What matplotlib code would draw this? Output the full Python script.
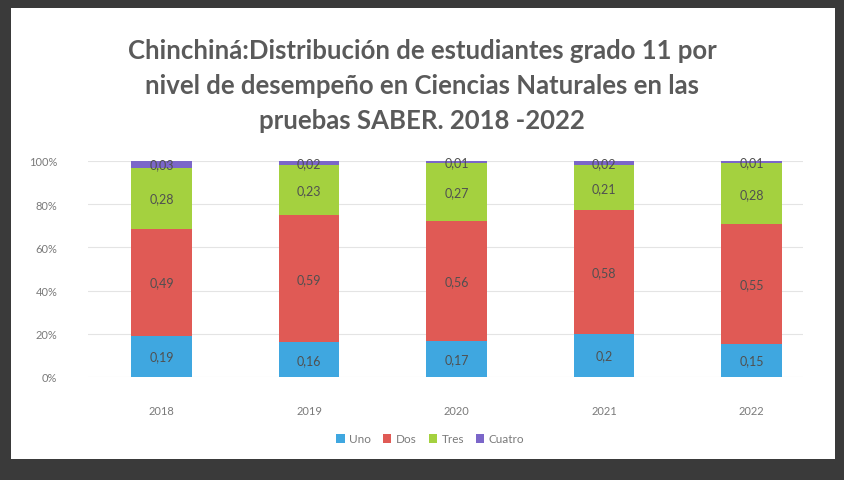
import matplotlib
matplotlib.use("Agg")
from matplotlib import pyplot as plt
from matplotlib.patches import Rectangle
import numpy as np

years = ["2018", "2019", "2020", "2021", "2022"]
uno = [0.19, 0.16, 0.17, 0.2, 0.15]
dos = [0.49, 0.59, 0.56, 0.58, 0.55]
tres = [0.28, 0.23, 0.27, 0.21, 0.28]
cuatro = [0.03, 0.02, 0.01, 0.02, 0.01]
series = [("Uno", uno), ("Dos", dos), ("Tres", tres), ("Cuatro", cuatro)]
colors = ["#3fa7e0", "#e05a55", "#a4d13f", "#7b66c9"]

plt.rcParams['font.family'] = ['Lato', 'DejaVu Sans']

W, H = 844, 481
fig = plt.figure(figsize=(W / 100, H / 100), dpi=100)
fig.patch.set_facecolor("white")

# dark frame around the chart (left, top, right, bottom strips in pixels)
frame = "#3a3a3a"
for x0, y0, w, h in [(0, 0, 11, H), (0, H - 9, W, 9), (W - 9, 0, 9, H), (0, 0, W, 21)]:
    fig.add_artist(Rectangle((x0 / W, y0 / H), w / W, h / H, transform=fig.transFigure,
                             facecolor=frame, edgecolor="none"))

ax = fig.add_axes([88 / W, (H - 378) / H, 715 / W, 216 / H])

totals = np.sum([s[1] for s in series], axis=0)
x = np.arange(len(years))
bottom = np.zeros(len(years))
for (name, vals), c in zip(series, colors):
    frac = np.array(vals) / totals
    ax.bar(x, frac, 0.41, bottom=bottom, color=c, label=name, zorder=3)
    for xi, b, f, v in zip(x, bottom, frac, vals):
        ax.text(xi, b + f / 2, str(v).replace(".", ","), ha="center", va="center",
                fontsize=9, color="#505050", zorder=4)
    bottom += frac

ax.set_ylim(0, 1)
ax.set_xlim(-0.5, 4.35)
ax.set_yticks(np.arange(0, 1.01, 0.2))
ax.set_yticklabels(["%d%%" % v for v in range(0, 101, 20)])
ax.set_xticks(x)
ax.set_xticklabels(years)
ax.tick_params(length=0, labelsize=8, colors="#7a7a7a")
ax.tick_params(axis="x", pad=20)
ax.tick_params(axis="y", pad=22)
ax.grid(axis="y", color="#e4e4e4", linewidth=0.8, zorder=0)
for s in ax.spines.values():
    s.set_visible(False)

fig.text(0.5, (H - 86) / H,
         "Chinchiná:Distribución de estudiantes grado 11 por\n"
         "nivel de desempeño en Ciencias Naturales en las\n"
         "pruebas SABER. 2018 -2022",
         ha="center", va="center", fontsize=18.5, fontweight="bold",
         color="#5a5a5a", linespacing=1.55)

fig.legend(*ax.get_legend_handles_labels(), loc="center",
           bbox_to_anchor=(0.51, (H - 440) / H), ncol=4, frameon=False,
           fontsize=8.5, handlelength=0.7, handleheight=0.9, handletextpad=0.4,
           columnspacing=1.0, labelcolor="#7a7a7a")

fig.savefig("out.png", dpi=100)
